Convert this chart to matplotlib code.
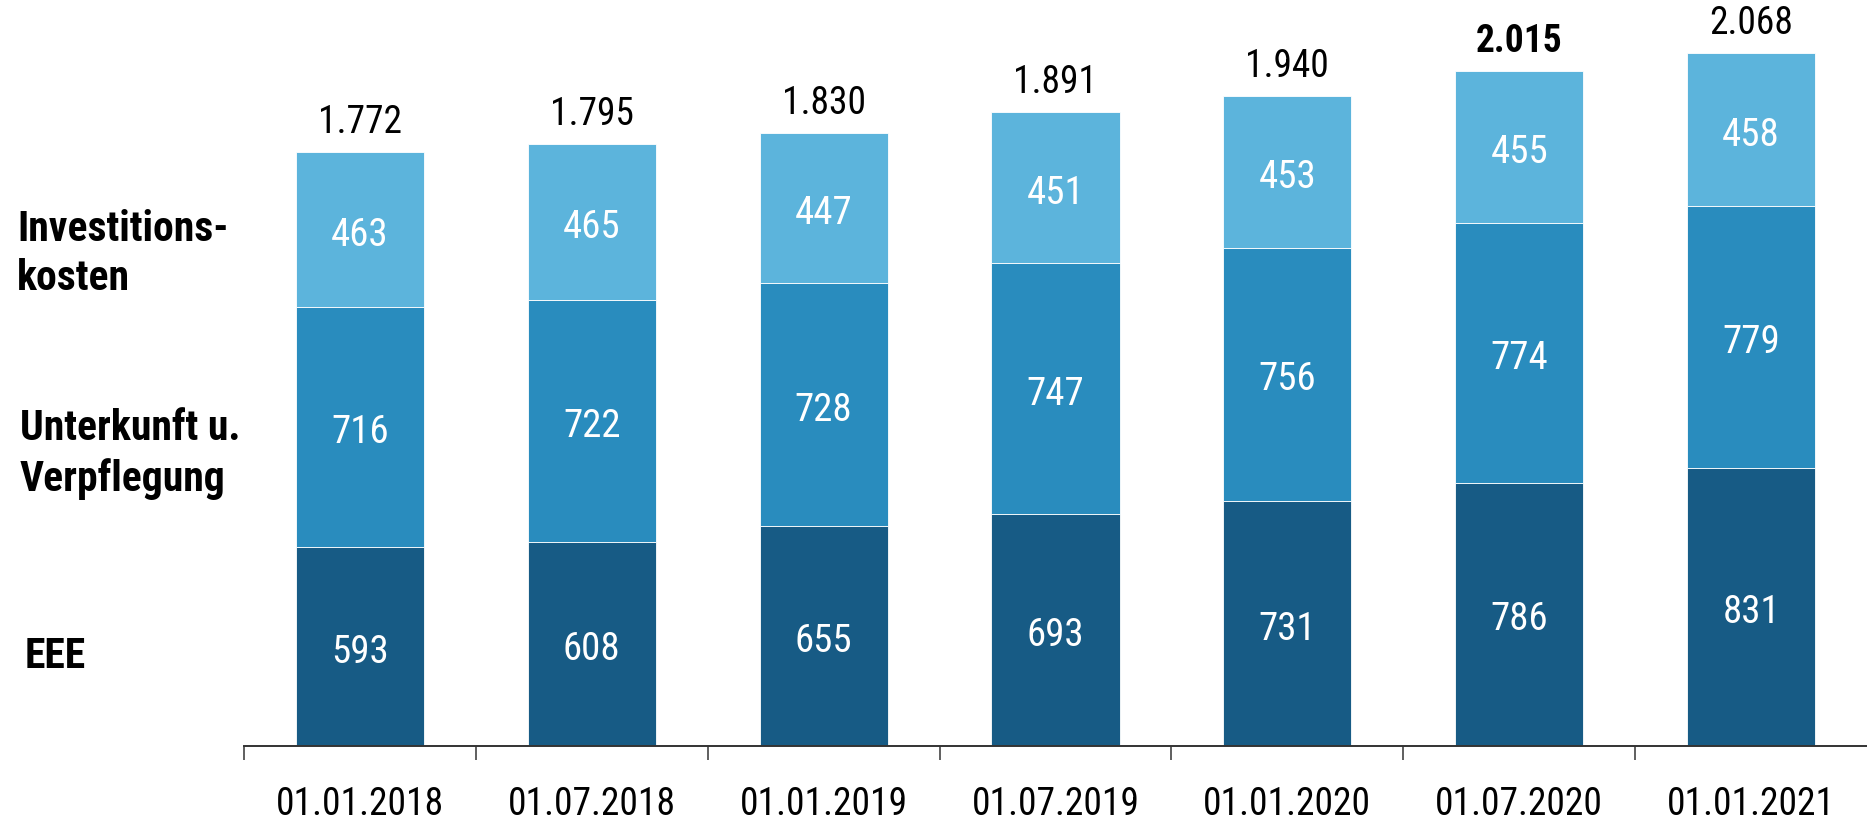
"""
Stacked bars: Kosten je Platz nach Bestandteil (EEE, Unterkunft, Investition)
"""
import matplotlib
matplotlib.use("Agg")
import numpy as np
import matplotlib.pyplot as plt

plt.rcParams['font.family'] = ['Roboto Condensed', 'Roboto', 'DejaVu Sans']

# data
dates = ["01.01.2018", "01.07.2018", "01.01.2019", "01.07.2019",
         "01.01.2020", "01.07.2020", "01.01.2021"]
eee = [593, 608, 655, 693, 731, 786, 831]
unterkunft = [716, 722, 728, 747, 756, 774, 779]
invest = [463, 465, 447, 451, 453, 455, 458]
totals = ["1.772", "1.795", "1.830", "1.891", "1.940", "2.015", "2.068"]
bold_total = "01.07.2020"

series_names = ["EEE", "Unterkunft u.\nVerpflegung", "Investitions-\nkosten"]
colors = ["#175B85", "#298CBE", "#5CB4DC"]

fig = plt.figure(figsize=(18.67, 8.22), dpi=100)
ax = fig.add_axes([244/1867, 76/822, 1 - 244/1867, 746/822])

x = np.arange(len(dates))
bottom = np.zeros(len(dates))
for vals, col in zip([eee, unterkunft, invest], colors):
    bars = ax.bar(x, vals, width=0.553, bottom=bottom, color=col,
                  edgecolor="white", linewidth=0.6)
    for b, v in zip(bars, vals):
        ax.annotate(str(v), (b.get_x() + b.get_width()/2, b.get_y() + b.get_height()/2),
                    xytext=(0, -4), textcoords="offset points",
                    ha="center", va="center", color="white", fontsize=28)
    bottom += np.array(vals)

# totals on top
for xi, top, lab, d in zip(x, bottom, totals, dates):
    ax.annotate(lab, (xi, top), xytext=(0, 8), textcoords="offset points",
                ha="center", va="bottom", fontsize=27,
                fontweight="bold" if d == bold_total else "normal")

ax.set_xlim(-0.5, len(dates) - 0.5)
ax.set_ylim(0, 2226)
ax.set_yticks([])
for s in ["top", "right", "left"]:
    ax.spines[s].set_visible(False)
ax.spines["bottom"].set_color("#333333")
ax.spines["bottom"].set_linewidth(1.4)

ax.set_xticks(x)
ax.set_xticklabels(dates, fontsize=27)
ax.tick_params(axis="x", which="major", length=0, pad=29)
ax.set_xticks(np.arange(len(dates)) - 0.5, minor=True)
ax.tick_params(axis="x", which="minor", length=10, width=1.2, color="#444444")

# series labels on the left
fig.text(17/1867, 1 - 254/822, series_names[2], ha="left", va="center",
         fontsize=30, fontweight="bold", linespacing=1.25)
fig.text(20/1867, 1 - 454/822, series_names[1], ha="left", va="center",
         fontsize=30, fontweight="bold", linespacing=1.25)
fig.text(25/1867, 1 - 656/822, series_names[0], ha="left", va="center",
         fontsize=30, fontweight="bold")

fig.savefig("out.png", dpi=100)
